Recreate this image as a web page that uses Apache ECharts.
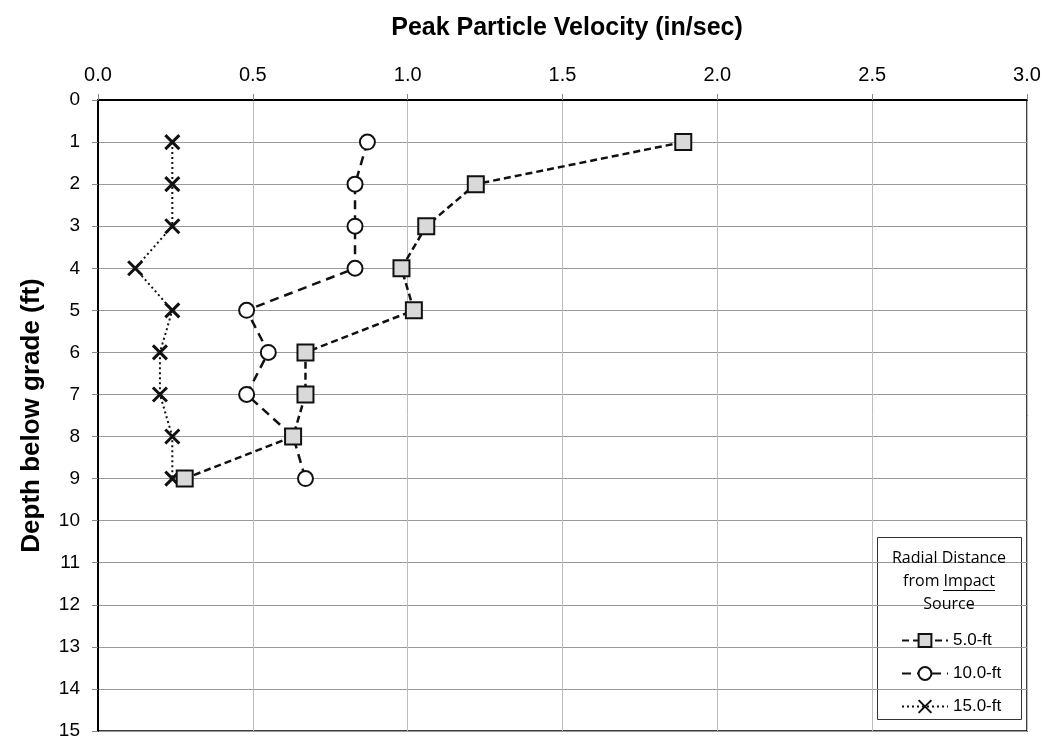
<!DOCTYPE html>
<html>
<head>
<meta charset="utf-8">
<script src="https://cdn.jsdelivr.net/npm/echarts@6/dist/echarts.min.js"></script>
<style>
  html, body { margin: 0; padding: 0; background: #fff; }
  #chart { width: 1046px; height: 742px; }
</style>
</head>
<body>
<div id="chart"></div>
<script>
// depth below grade (ft)
var depths = [1, 2, 3, 4, 5, 6, 7, 8, 9];
// peak particle velocity (in/sec) by radial distance
var ppv5ft  = [1.89, 1.22, 1.06, 0.98, 1.02, 0.67, 0.67, 0.63, 0.28];
var ppv10ft = [0.87, 0.83, 0.83, 0.83, 0.48, 0.55, 0.48, 0.63, 0.67];
var ppv15ft = [0.24, 0.24, 0.24, 0.12, 0.24, 0.20, 0.20, 0.24, 0.24];
var seriesNames = ['5.0-ft', '10.0-ft', '15.0-ft'];

function pairs(vals) {
  return vals.map(function (v, i) { return [v, depths[i]]; });
}

var sans = '"Liberation Sans", Arial, sans-serif';

var myChart = echarts.init(document.getElementById('chart'));

var option = {
  animation: false,
  backgroundColor: '#fff',
  title: {
    text: 'Peak Particle Velocity (in/sec)',
    left: 562,
    textAlign: 'center',
    top: 11,
    textStyle: { fontFamily: sans, fontWeight: 'bold', fontSize: 25, color: '#000' }
  },
  grid: { left: 98, right: 19, top: 100, bottom: 11, show: true, borderColor: '#000', borderWidth: 1.5 },
  xAxis: {
    type: 'value',
    position: 'top',
    min: 0, max: 3, interval: 0.5,
    axisLine: { show: true, lineStyle: { color: '#000', width: 2 } },
    axisTick: { show: true, inside: false, length: 6, lineStyle: { color: '#888' } },
    axisLabel: {
      margin: 15,
      fontFamily: sans, fontSize: 20, color: '#000',
      formatter: function (v) { return v.toFixed(1); }
    },
    splitLine: { show: true, lineStyle: { color: '#bdbdbd', width: 1 } }
  },
  yAxis: {
    type: 'value',
    inverse: true,
    min: 0, max: 15, interval: 1,
    name: 'Depth below grade (ft)',
    nameLocation: 'middle',
    nameGap: 53,
    nameTextStyle: { fontFamily: sans, fontWeight: 'bold', fontSize: 26, color: '#000' },
    axisLine: { show: true, lineStyle: { color: '#000', width: 2 } },
    axisTick: { show: true, inside: false, length: 6, lineStyle: { color: '#888' } },
    axisLabel: { margin: 18, fontFamily: sans, fontSize: 19, color: '#000' },
    splitLine: { show: true, lineStyle: { color: '#999', width: 1.2 } }
  },
  legend: {
    orient: 'vertical',
    left: 896,
    top: 627,
    itemGap: 16,
    itemWidth: 46,
    itemHeight: 16,
    data: seriesNames,
    textStyle: { fontFamily: sans, fontSize: 17, color: '#000' }
  },
  graphic: [
    { type: 'rect', shape: { x: 877.5, y: 537.5, width: 144, height: 182 },
      style: { fill: '#fff', stroke: '#333', lineWidth: 1 }, z: 0 },
    { type: 'text', x: 949, y: 547,
      style: { text: 'Radial Distance\nfrom Impact\nSource', textAlign: 'center', fontFamily: '"Open Sans", "Noto Sans", sans-serif',
               fontSize: 16, lineHeight: 23, fill: '#000' }, z: 1 },
    { type: 'line', shape: { x1: 943, y1: 590.5, x2: 995, y2: 590.5 },
      style: { stroke: '#000', lineWidth: 1 }, z: 1 }
  ],
  series: [
    {
      name: seriesNames[0], type: 'line', data: pairs(ppv5ft),
      symbol: 'rect', symbolSize: 16,
      itemStyle: { color: '#d9d9d9', borderColor: '#111', borderWidth: 2 },
      lineStyle: { color: '#111', width: 2.5, type: [7, 4] },
      z: 4
    },
    {
      name: seriesNames[1], type: 'line', data: pairs(ppv10ft),
      symbol: 'circle', symbolSize: 15,
      itemStyle: { color: '#fff', borderColor: '#111', borderWidth: 2 },
      lineStyle: { color: '#111', width: 2.5, type: [9, 6] },
      z: 3
    },
    {
      name: seriesNames[2], type: 'line', data: pairs(ppv15ft),
      symbol: 'path://M0,0L10,10M10,0L0,10', symbolSize: 14,
      itemStyle: { color: '#111', borderColor: '#111', borderWidth: 3 },
      lineStyle: { color: '#111', width: 2, type: [2, 3] },
      z: 2
    }
  ]
};

myChart.setOption(option);
</script>
</body>
</html>
